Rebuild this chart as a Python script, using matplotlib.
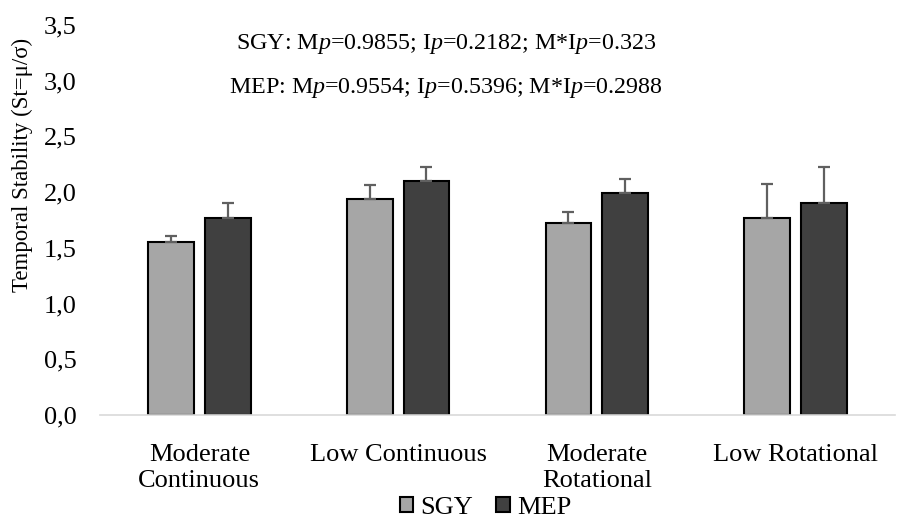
import numpy as np
import matplotlib
matplotlib.use('Agg')
import matplotlib.pyplot as plt
from matplotlib.ticker import FuncFormatter

plt.rcParams['font.family'] = ['Liberation Serif', 'DejaVu Serif']
plt.rcParams['mathtext.fontset'] = 'custom'
plt.rcParams['mathtext.rm'] = 'Liberation Serif'
plt.rcParams['mathtext.it'] = 'Liberation Serif:italic'

# Данные
categories = ['Moderate\nContinuous', 'Low Continuous', 'Moderate\nRotational', 'Low Rotational']
sgy_mean = [1.55, 1.94, 1.72, 1.77]
sgy_err = [0.06, 0.12, 0.10, 0.30]
mep_mean = [1.77, 2.10, 1.99, 1.90]
mep_err = [0.13, 0.13, 0.13, 0.33]
stats_sgy = 'SGY: M$\\it{p}$=0.9855; I$\\it{p}$=0.2182; M*I$\\it{p}$=0.323'
stats_mep = 'MEP: M$\\it{p}$=0.9554; I$\\it{p}$=0.5396; M*I$\\it{p}$=0.2988'

fig = plt.figure(figsize=(8.97, 5.19), dpi=100)
ax = fig.add_axes([0.1115, 0.2004, 0.886, 0.7514])

x = np.arange(len(categories))
w = 0.23
gap = 0.055
err_kw = dict(ecolor='#606060', elinewidth=1.6, capsize=4.5, capthick=1.6)

ax.bar(x - (w + gap) / 2, sgy_mean, w, color='#a6a6a6', edgecolor='black', linewidth=1.5,
       yerr=[np.zeros(4), sgy_err], error_kw=err_kw, label='SGY')
ax.bar(x + (w + gap) / 2, mep_mean, w, color='#404040', edgecolor='black', linewidth=1.5,
       yerr=[np.zeros(4), mep_err], error_kw=err_kw, label='MEP')

ax.set_xlim(-0.5, 3.5)
ax.set_ylim(0, 3.5)
ax.set_yticks(np.arange(0, 3.51, 0.5))
ax.yaxis.set_major_formatter(FuncFormatter(lambda v, p: f'{v:.1f}'.replace('.', ',')))
ax.set_xticks(x)
ax.set_xticklabels(categories, linespacing=1.2)
ax.tick_params(axis='both', length=0, labelsize=19)
ax.tick_params(axis='x', pad=21)
ax.tick_params(axis='y', pad=17)
for s in ['top', 'right', 'left']:
    ax.spines[s].set_visible(False)
ax.spines['bottom'].set_color('#d9d9d9')
ax.spines['bottom'].set_linewidth(1.2)

ax.set_ylabel('Temporal Stability (St=μ/σ)', fontsize=16.5)
ax.yaxis.set_label_coords(-0.084, 0.64)

ax.text(0.435, 0.951, stats_sgy, transform=ax.transAxes, ha='center', va='center', fontsize=17.3)
ax.text(0.435, 0.838, stats_mep, transform=ax.transAxes, ha='center', va='center', fontsize=17.3)

fig.legend(loc='center', bbox_to_anchor=(0.541, 0.022), ncol=2, frameon=False,
           fontsize=19, handlelength=0.5, handleheight=0.5, handletextpad=0.27,
           columnspacing=0.9, borderpad=0)

plt.savefig('out.png', dpi=100)
